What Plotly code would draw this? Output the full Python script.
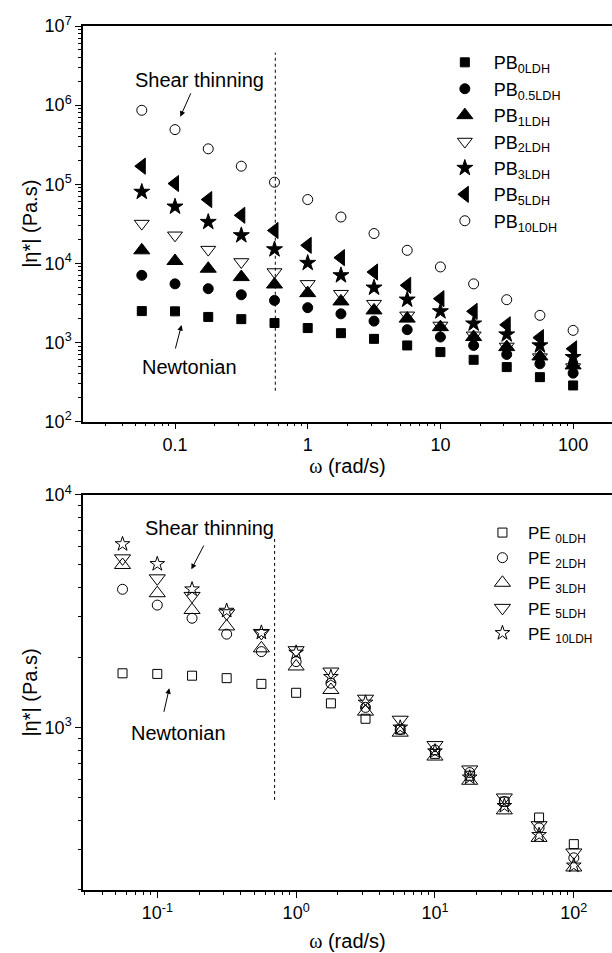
import math
import plotly.graph_objects as go

# ---------------- data ----------------
freq = [0.0562, 0.1, 0.178, 0.316, 0.562, 1.0, 1.78, 3.16, 5.62, 10.0, 17.8, 31.6, 56.2, 100.0]

pb_labels = ["PB<sub>0LDH</sub>", "PB<sub>0.5LDH</sub>", "PB<sub>1LDH</sub>", "PB<sub>2LDH</sub>",
             "PB<sub>3LDH</sub>", "PB<sub>5LDH</sub>", "PB<sub>10LDH</sub>"]
pb_0 = [2490, 2470, 2100, 1970, 1760, 1520, 1310, 1110, 916, 755, 603, 488, 364, 286]
pb_05 = [7050, 5500, 4780, 4000, 3400, 2750, 2300, 1860, 1450, 1170, 916, 705, 537, 409]
pb_1 = [14600, 10700, 8550, 6700, 5400, 4200, 3300, 2540, 2000, 1560, 1170, 873, 665, 512]
pb_2 = [31800, 22600, 14900, 10400, 7760, 5500, 4130, 3090, 2200, 1640, 1230, 890, 652, 488]
pb_3 = [80000, 52000, 33300, 22600, 15000, 10100, 7050, 4920, 3470, 2470, 1730, 1260, 916, 652]
pb_5 = [169000, 102000, 64000, 40500, 26000, 16900, 11800, 7760, 5270, 3570, 2470, 1670, 1150, 830]
pb_10 = [860000, 490000, 280000, 169000, 106000, 64000, 38500, 23800, 14600, 9000, 5500, 3470, 2200, 1420]

pe_labels = ["PE <sub>0LDH</sub>", "PE <sub>2LDH</sub>", "PE <sub>3LDH</sub>", "PE <sub>5LDH</sub>",
             "PE <sub>10LDH</sub>"]
pe_0 = [1710, 1700, 1670, 1630, 1540, 1410, 1270, 1090, 980, 770, 620, 480, 410, 315]
pe_2 = [3930, 3360, 2950, 2520, 2120, 1920, 1550, 1220, 980, 800, 640, 480, 370, 275]
pe_3 = [5000, 3780, 3200, 2720, 2190, 1830, 1450, 1170, 950, 750, 590, 440, 335, 250]
pe_5 = [5340, 4380, 3680, 3100, 2550, 2150, 1740, 1330, 1080, 840, 660, 500, 380, 290]
pe_10 = [6150, 5050, 3930, 3180, 2560, 2100, 1650, 1280, 1000, 790, 610, 460, 345, 255]

top_vline_x = [0.57, 0.57]
top_vline_y = [245, 4.6e6]
bot_vline_x = [0.70, 0.70]
bot_vline_y = [488, 6500]

top_xtick_vals = [0.1, 1, 10, 100]
top_xtick_text = ["0.1", "1", "10", "100"]
top_ytick_vals = [1e2, 1e3, 1e4, 1e5, 1e6, 1e7]
top_ytick_text = ["10<sup>2</sup>", "10<sup>3</sup>", "10<sup>4</sup>", "10<sup>5</sup>",
                  "10<sup>6</sup>", "10<sup>7</sup>"]
bot_xtick_vals = [0.1, 1, 10, 100]
bot_xtick_text = ["10<sup>-1</sup>", "10<sup>0</sup>", "10<sup>1</sup>", "10<sup>2</sup>"]
bot_ytick_vals = [1e3, 1e4]
bot_ytick_text = ["10<sup>3</sup>", "10<sup>4</sup>"]

# ---------------- styling ----------------
FONT = "Liberation Sans, Arial, sans-serif"
BLACK = "#000000"

fig = go.Figure()

pb_series = [pb_0, pb_05, pb_1, pb_2, pb_3, pb_5, pb_10]
pb_symbols = ["square", "circle", "triangle-up", "triangle-down-open", "star", "triangle-left", "circle-open"]
pb_sizes = [9, 10, 14, 13, 12, 14, 10]
for name, vals, sym, sz in zip(pb_labels, pb_series, pb_symbols, pb_sizes):
    fig.add_trace(go.Scatter(
        x=freq, y=vals, mode="markers", name=name, xaxis="x", yaxis="y", legend="legend",
        marker=dict(symbol=sym, size=sz, color=BLACK, line=dict(color=BLACK, width=1)),
    ))

pe_series = [pe_0, pe_2, pe_3, pe_5, pe_10]
pe_symbols = ["square-open", "circle-open", "triangle-up-open", "triangle-down-open", "star-open"]
pe_sizes = [9, 10, 14, 14, 11]
for name, vals, sym, sz in zip(pe_labels, pe_series, pe_symbols, pe_sizes):
    fig.add_trace(go.Scatter(
        x=freq, y=vals, mode="markers", name=name, xaxis="x2", yaxis="y2", legend="legend2",
        marker=dict(symbol=sym, size=sz, color=BLACK, line=dict(color=BLACK, width=1)),
    ))

fig.add_trace(go.Scatter(x=top_vline_x, y=top_vline_y, mode="lines", xaxis="x", yaxis="y",
                         showlegend=False, hoverinfo="skip",
                         line=dict(color=BLACK, width=1, dash="dot")))
fig.add_trace(go.Scatter(x=bot_vline_x, y=bot_vline_y, mode="lines", xaxis="x2", yaxis="y2",
                         showlegend=False, hoverinfo="skip",
                         line=dict(color=BLACK, width=1, dash="dot")))

L = math.log10


def ann_text(text, x, y, xref, yref):
    return dict(text=text, x=L(x), y=L(y), xref=xref, yref=yref, showarrow=False,
                font=dict(family=FONT, size=20, color=BLACK), xanchor="center", yanchor="middle")


def ann_arrow(x0, y0, x1, y1, xref, yref):
    return dict(text="", x=L(x1), y=L(y1), ax=L(x0), ay=L(y0), xref=xref, yref=yref,
                axref=xref, ayref=yref, showarrow=True, arrowhead=2, arrowsize=1.1,
                arrowwidth=1, arrowcolor=BLACK, standoff=0, startstandoff=0)


annotations = [
    ann_text("Shear thinning", 0.154, 2.07e6, "x", "y"),
    ann_arrow(0.133, 1.47e6, 0.1096, 7.13e5, "x", "y"),
    ann_text("Newtonian", 0.128, 493, "x", "y"),
    ann_arrow(0.1, 802, 0.112, 1.66e3, "x", "y"),
    ann_text("Shear thinning", 0.238, 7.2e3, "x2", "y2"),
    ann_arrow(0.219, 6.15e3, 0.176, 4.79e3, "x2", "y2"),
    ann_text("Newtonian", 0.1433, 944, "x2", "y2"),
    ann_arrow(0.111, 1.15e3, 0.122, 1.476e3, "x2", "y2"),
]

axis_common = dict(
    type="log", showgrid=False, zeroline=False, showline=True, linecolor=BLACK, linewidth=1.5,
    ticks="outside", ticklen=6, tickwidth=1, tickcolor=BLACK,
    tickfont=dict(family=FONT, size=18, color=BLACK),
    minor=dict(ticks="outside", ticklen=3, tickwidth=1, tickcolor=BLACK, dtick="D1", showgrid=False),
)

XTITLE = "<span style='font-family:Liberation Serif'>ω</span> (rad/s)"
YTITLE = "|η*| (Pa.s)"

fig.update_layout(
    width=612, height=953,
    margin=dict(l=83, r=0, t=26, b=63),
    paper_bgcolor="white", plot_bgcolor="white",
    font=dict(family=FONT, color=BLACK),
    xaxis=dict(axis_common, domain=[0, 1], anchor="y", range=[-1.6933, 2.293], mirror=True,
               tickmode="array", tickvals=top_xtick_vals, ticktext=top_xtick_text,
               title=dict(text=XTITLE, font=dict(family=FONT, size=20, color=BLACK), standoff=0)),
    yaxis=dict(axis_common, domain=[0.5422, 1], anchor="x", range=[2, 7],
               tickmode="array", tickvals=top_ytick_vals, ticktext=top_ytick_text,
               title=dict(text=YTITLE, font=dict(family=FONT, size=20, color=BLACK), standoff=2)),
    xaxis2=dict(axis_common, domain=[0, 1], anchor="y2", range=[-1.535, 2.275], mirror=True,
                tickmode="array", tickvals=bot_xtick_vals, ticktext=bot_xtick_text,
                title=dict(text=XTITLE, font=dict(family=FONT, size=20, color=BLACK), standoff=12)),
    yaxis2=dict(axis_common, domain=[0, 0.4572], anchor="x2", range=[L(200), 4],
                tickmode="array", tickvals=bot_ytick_vals, ticktext=bot_ytick_text,
                title=dict(text=YTITLE, font=dict(family=FONT, size=20, color=BLACK), standoff=2)),
    legend=dict(x=0.667, y=0.979, xanchor="left", yanchor="top", bgcolor="rgba(0,0,0,0)",
                font=dict(family=FONT, size=18, color=BLACK), tracegroupgap=0,
                itemsizing="trace", itemwidth=48),
    legend2=dict(x=0.7447, y=0.434, xanchor="left", yanchor="top", bgcolor="rgba(0,0,0,0)",
                 font=dict(family=FONT, size=17, color=BLACK), tracegroupgap=0,
                 itemsizing="trace", itemwidth=41),
    annotations=annotations,
    showlegend=True,
)

fig.write_html("out.html")
